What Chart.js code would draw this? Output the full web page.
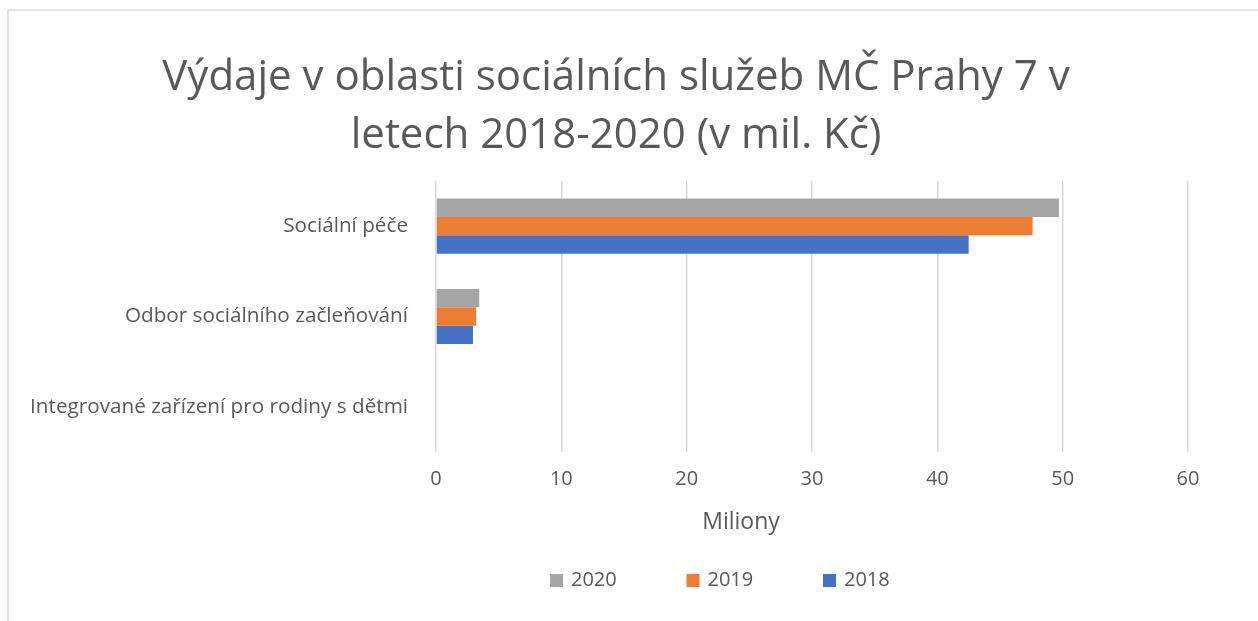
<!DOCTYPE html>
<html lang="cs">
<head>
<meta charset="utf-8">
<title>Výdaje v oblasti sociálních služeb MČ Prahy 7</title>
<script src="https://cdn.jsdelivr.net/npm/chart.js@4/dist/chart.umd.min.js"></script>
<style>
  html, body { margin: 0; padding: 0; background: #fff; }
  #wrap { width: 1258px; height: 621px; position: relative; }
</style>
</head>
<body>
<div id="wrap"><canvas id="chart"></canvas></div>
<script>
'use strict';

// ---- data ----
const titleLines = ['Výdaje v oblasti sociálních služeb MČ Prahy 7 v', 'letech 2018-2020 (v mil. Kč)'];
const categories = ['Sociální péče', 'Odbor sociálního začleňování', 'Integrované zařízení pro rodiny s dětmi'];
const years = ['2020', '2019', '2018'];
const values2020 = [49.7, 3.45, 0];
const values2019 = [47.6, 3.2, 0];
const values2018 = [42.5, 2.95, 0];
const axisTitle = 'Miliony';

const FONT = '"Open Sans", sans-serif';
const TEXT = '#595959';
const GRID = '#d9d9d9';
const colors = ['#a5a5a5', '#ed7d31', '#4472c4'];

// border, title offset, axis title and legend drawn on the canvas
const extrasPlugin = {
  id: 'extras',
  afterLayout(chart, args, opts) {
    const t = chart.titleBlock;
    if (t) { t.left += opts.titleShift; t.right += opts.titleShift; }
  },
  beforeDraw(chart) {
    const ctx = chart.ctx;
    ctx.save();
    ctx.strokeStyle = GRID;
    ctx.lineWidth = 1.5;
    ctx.beginPath();
    ctx.moveTo(8, chart.height);
    ctx.lineTo(8, 10);
    ctx.lineTo(chart.width, 10);
    ctx.stroke();
    ctx.restore();
  },
  afterDraw(chart, args, opts) {
    const ctx = chart.ctx;
    ctx.save();
    ctx.fillStyle = TEXT;
    ctx.textBaseline = 'middle';
    ctx.textAlign = 'center';
    ctx.font = '23px ' + FONT;
    ctx.fillText(axisTitle, opts.axisTitleX, opts.axisTitleY);
    ctx.textAlign = 'left';
    ctx.font = '20px ' + FONT;
    chart.data.datasets.forEach((ds, i) => {
      const x = opts.legendX + i * opts.legendStep;
      ctx.fillStyle = ds.backgroundColor;
      ctx.fillRect(x, opts.legendY - 6.5, 13, 13);
      ctx.fillStyle = TEXT;
      ctx.fillText(ds.label, x + 21, opts.legendY);
    });
    ctx.restore();
  }
};

const series = [values2020, values2019, values2018];

new Chart(document.getElementById('chart').getContext('2d'), {
  type: 'bar',
  data: {
    labels: categories,
    datasets: years.map((y, i) => ({
      label: y,
      data: series[i],
      backgroundColor: colors[i],
      borderWidth: 0,
      barPercentage: 1,
      categoryPercentage: 0.61
    }))
  },
  options: {
    indexAxis: 'y',
    responsive: true,
    maintainAspectRatio: false,
    animation: false,
    layout: { padding: { left: 0, right: 70, top: 0, bottom: 87 } },
    plugins: {
      legend: { display: false },
      tooltip: { enabled: false },
      title: {
        display: true,
        text: titleLines,
        color: TEXT,
        font: { family: FONT, size: 42, weight: 'normal', lineHeight: 1.38 },
        padding: { top: 49, bottom: 16 }
      },
      extras: { titleShift: 22, axisTitleX: 741, axisTitleY: 522, legendX: 550, legendStep: 136.5, legendY: 580.5 }
    },
    scales: {
      x: {
        min: 0,
        max: 60,
        ticks: { stepSize: 10, color: TEXT, font: { family: FONT, size: 20 }, padding: 15, maxRotation: 0 },
        grid: { color: GRID, lineWidth: 1.5, drawTicks: false },
        border: { display: false },
        afterFit: s => { s.height = 82; }
      },
      y: {
        ticks: { color: TEXT, font: { family: FONT, size: 20.7 }, padding: 28 },
        grid: { display: false, drawTicks: false },
        border: { display: false },
        afterFit: s => { s.width = 436; }
      }
    }
  },
  plugins: [extrasPlugin]
});
</script>
</body>
</html>
